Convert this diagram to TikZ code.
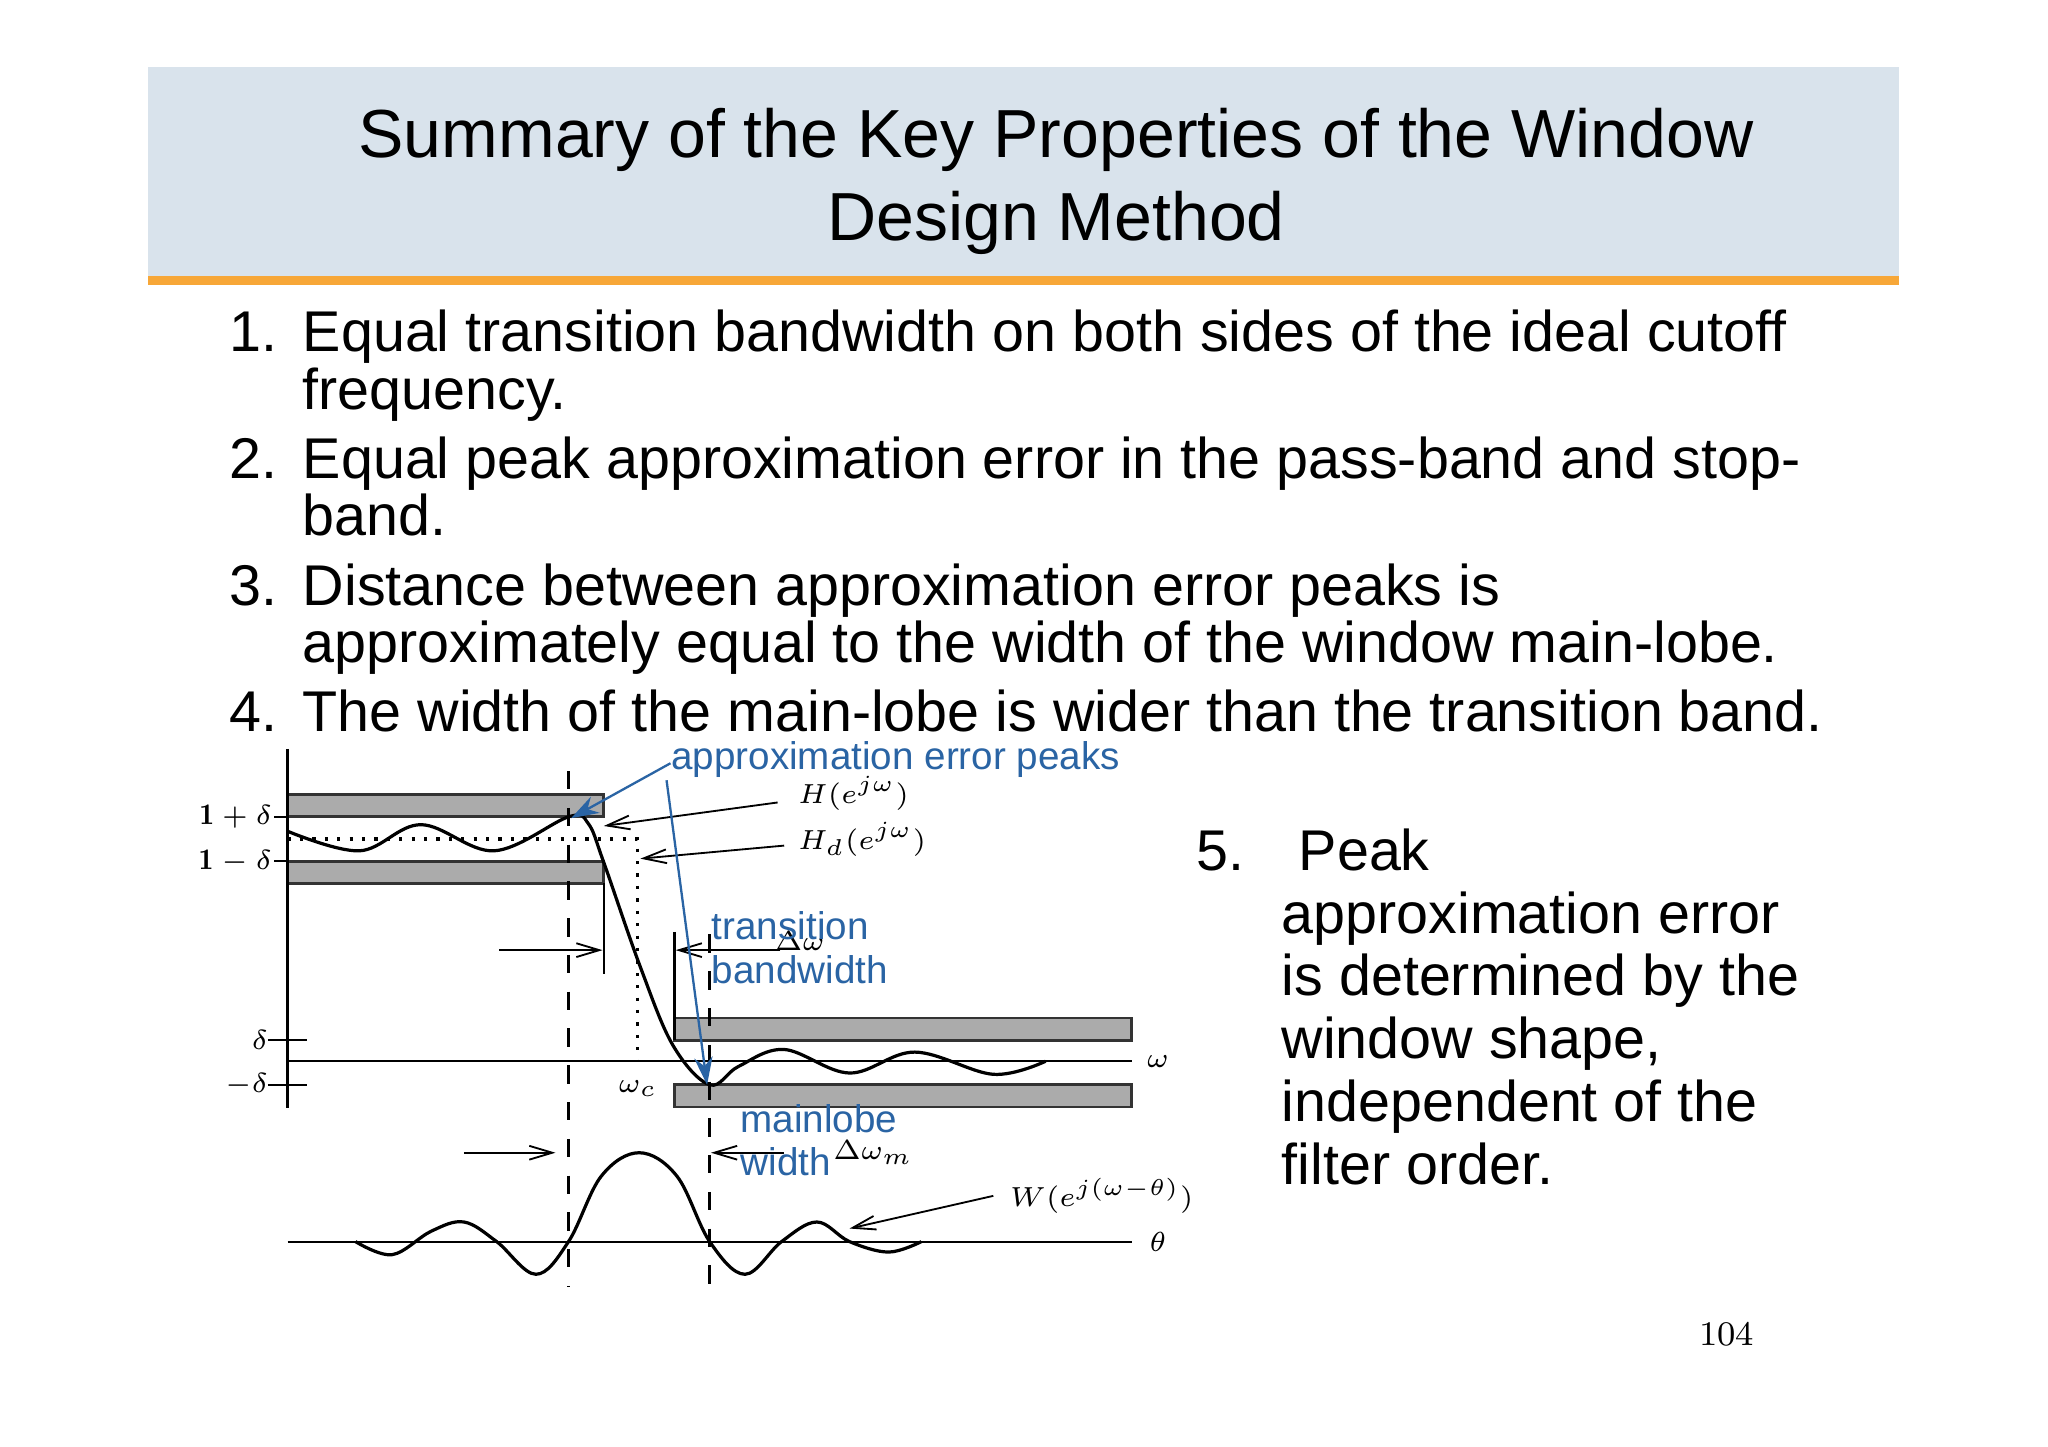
\documentclass[tikz,border=0pt]{standalone}
\usepackage{fontspec}
\setsansfont{Liberation Sans}
\usetikzlibrary{arrows.meta}
\definecolor{band}{HTML}{D9E3EC}
\definecolor{orng}{HTML}{F7A738}
\definecolor{anblue}{HTML}{2A64A4}
\definecolor{boxg}{HTML}{ABABAB}
\tikzset{
 body/.style={anchor=base west,inner sep=0,font=\sffamily\fontsize{12.5}{14}\selectfont},
 ann/.style={anchor=west,inner sep=0,text=anblue,font=\sffamily\fontsize{8.4}{10}\selectfont},
 mlab/.style={inner sep=0,font=\fontsize{6.5}{8}\selectfont},
 gbox/.style={draw=black!80,fill=boxg,line width=0.6pt},
 barb/.style={-{Straight Barb[length=5pt,width=3pt]},line width=0.4pt},
 bluearr/.style={anblue,line width=0.5pt,-{Stealth[length=6pt,width=4pt]}},
 dsh/.style={dash pattern=on 4pt off 4pt,line width=0.6pt},
 dot/.style={dotted,line width=0.7pt}
}
\begin{document}
\begin{tikzpicture}[x=0.01cm,y=-0.01cm]
\useasboundingbox (0,0) rectangle (1567,1107);
\fill[white] (0,0) rectangle (1567,1107);
\fill[band] (113,51) rectangle (1453,212);
\fill[orng] (113,211) rectangle (1453,218);
\node[inner sep=0,align=center,font=\sffamily\fontsize{14.8}{18}\selectfont] (title) at (808,139) {Summary of the Key Properties of the Window\\Design Method};
% list
\node[body] (n1) at (175,269) {1.};
\node[body] (t1) at (231,269) {Equal transition bandwidth on both sides of the ideal cutoff};
\node[body] (t1b) at (231,313) {frequency.};
\node[body] (n2) at (175,366) {2.};
\node[body] (t2) at (231,366) {Equal peak approximation error in the pass-band and stop-};
\node[body] (t2b) at (231,410) {band.};
\node[body] (n3) at (175,463) {3.};
\node[body] (t3) at (231,463) {Distance between approximation error peaks is};
\node[body] (t3b) at (231,507) {approximately equal to the width of the window main-lobe.};
\node[body] (n4) at (175,560) {4.};
\node[body] (t4) at (231,560) {The width of the main-lobe is wider than the transition band.};
\node[body] (n5) at (915,666) {5.};
\node[body] (t5) at (993,666) {Peak};
\node[body] (t5b) at (980,714) {approximation error};
\node[body] (t5c) at (980,762) {is determined by the};
\node[body] (t5d) at (980,810) {window shape,};
\node[body] (t5e) at (980,858) {independent of the};
\node[body] (t5f) at (980,906) {filter order.};
\node[inner sep=0,font=\fontsize{7.5}{9}\selectfont] (pg) at (1321,1021) {104};
% plot
\draw[gbox] (220,608) rectangle (462,625);
\draw[gbox] (220,659) rectangle (462,676);
\draw[gbox] (516,779) rectangle (866,796);
\draw[gbox] (516,830) rectangle (866,847);
\draw[line width=0.7pt] (220,573) -- (220,848);
\draw[line width=0.4pt] (220,812) -- (866,812);
\draw[line width=0.4pt] (220,950) -- (866,950);
\draw[dot] (220,642) -- (488,642) -- (488,812);
\draw[dsh] (435,590) -- (435,985);
\draw[dsh] (543,715) -- (543,985);
% ticks
\draw[line width=0.4pt] (210,625)--(220,625) (210,659)--(220,659) (205,796)--(235,796) (205,830)--(235,830);
\node[mlab,anchor=east] (l1) at (209,625) {$\mathbf{1+\delta}$};
\node[mlab,anchor=east] (l2) at (209,659) {$\mathbf{1-\delta}$};
\node[mlab,anchor=east] (l3) at (206,796) {$\delta$};
\node[mlab,anchor=east] (l4) at (206,830) {$-\delta$};
\node[mlab] (om) at (886,812) {$\omega$};
\node[mlab] (th) at (886,950) {$\theta$};
\node[mlab] (omc) at (488,833) {$\omega_c$};
% H curve
\draw[line width=0.7pt] plot[smooth,tension=0.6] coordinates{(220,636)(275,651)(322,631)(378,651)(435,625)(450,630)(462,660)(490,740)(515,800)(543,830)(565,816)(600,803)(650,821)(700,805)(760,822)(800,812)};
% W curve
\draw[line width=0.7pt] plot[smooth,tension=0.6] coordinates{(272,950)(300,960)(330,942)(355,935)(380,950)(410,975)(435,950)(460,900)(489,882)(518,900)(543,950)(570,975)(598,950)(625,935)(650,950)(680,958)(705,950)};
% transition arrows
\draw[line width=0.5pt] (462,676) -- (462,745);
\draw[line width=0.5pt] (516,713) -- (516,796);
\coordinate (ta1) at (382,727); \coordinate (ta2) at (461,727);
\coordinate (tb1) at (597,727); \coordinate (tb2) at (517,727);
\draw[barb] (ta1) -- (ta2);
\draw[barb] (tb1) -- (tb2);
\node[mlab] (dw) at (612,720) {$\Delta\omega$};
% mainlobe arrows
\coordinate (ma1) at (355,882); \coordinate (ma2) at (425,882);
\coordinate (mb1) at (600,882); \coordinate (mb2) at (544,882);
\draw[barb] (ma1) -- (ma2);
\draw[barb] (mb1) -- (mb2);
\node[mlab] (dwm) at (668,882) {$\Delta\omega_m$};
% label arrows
\node[mlab,anchor=west] (hl) at (610,607) {$H(e^{j\omega})$};
\node[mlab,anchor=west] (hdl) at (610,642) {$H_d(e^{j\omega})$};
\node[mlab,anchor=west] (wl) at (772,915) {$W(e^{j(\omega-\theta)})$};
\coordinate (h1) at (595,614); \coordinate (h2) at (462,632);
\coordinate (hd1) at (600,647); \coordinate (hd2) at (490,657);
\coordinate (w1) at (760,915); \coordinate (w2) at (650,940);
\draw[barb] (h1) -- (h2);
\draw[barb] (hd1) -- (hd2);
\draw[barb] (w1) -- (w2);
% blue annotations
\node[ann] (aep) at (513,581) {approximation error peaks};
\node[ann] (tr1) at (544,708) {transition};
\node[ann] (tr2) at (544,742) {bandwidth};
\node[ann] (ml1) at (566,856) {mainlobe};
\node[ann] (ml2) at (566,889) {width};
\coordinate (pk1) at (437,626); \coordinate (pk2) at (541,830);
\coordinate (ab1) at (513,584); \coordinate (ab2) at (510,597);
\draw[bluearr] (ab1) -- (pk1);
\draw[bluearr] (ab2) -- (pk2);
\end{tikzpicture}
\end{document}
